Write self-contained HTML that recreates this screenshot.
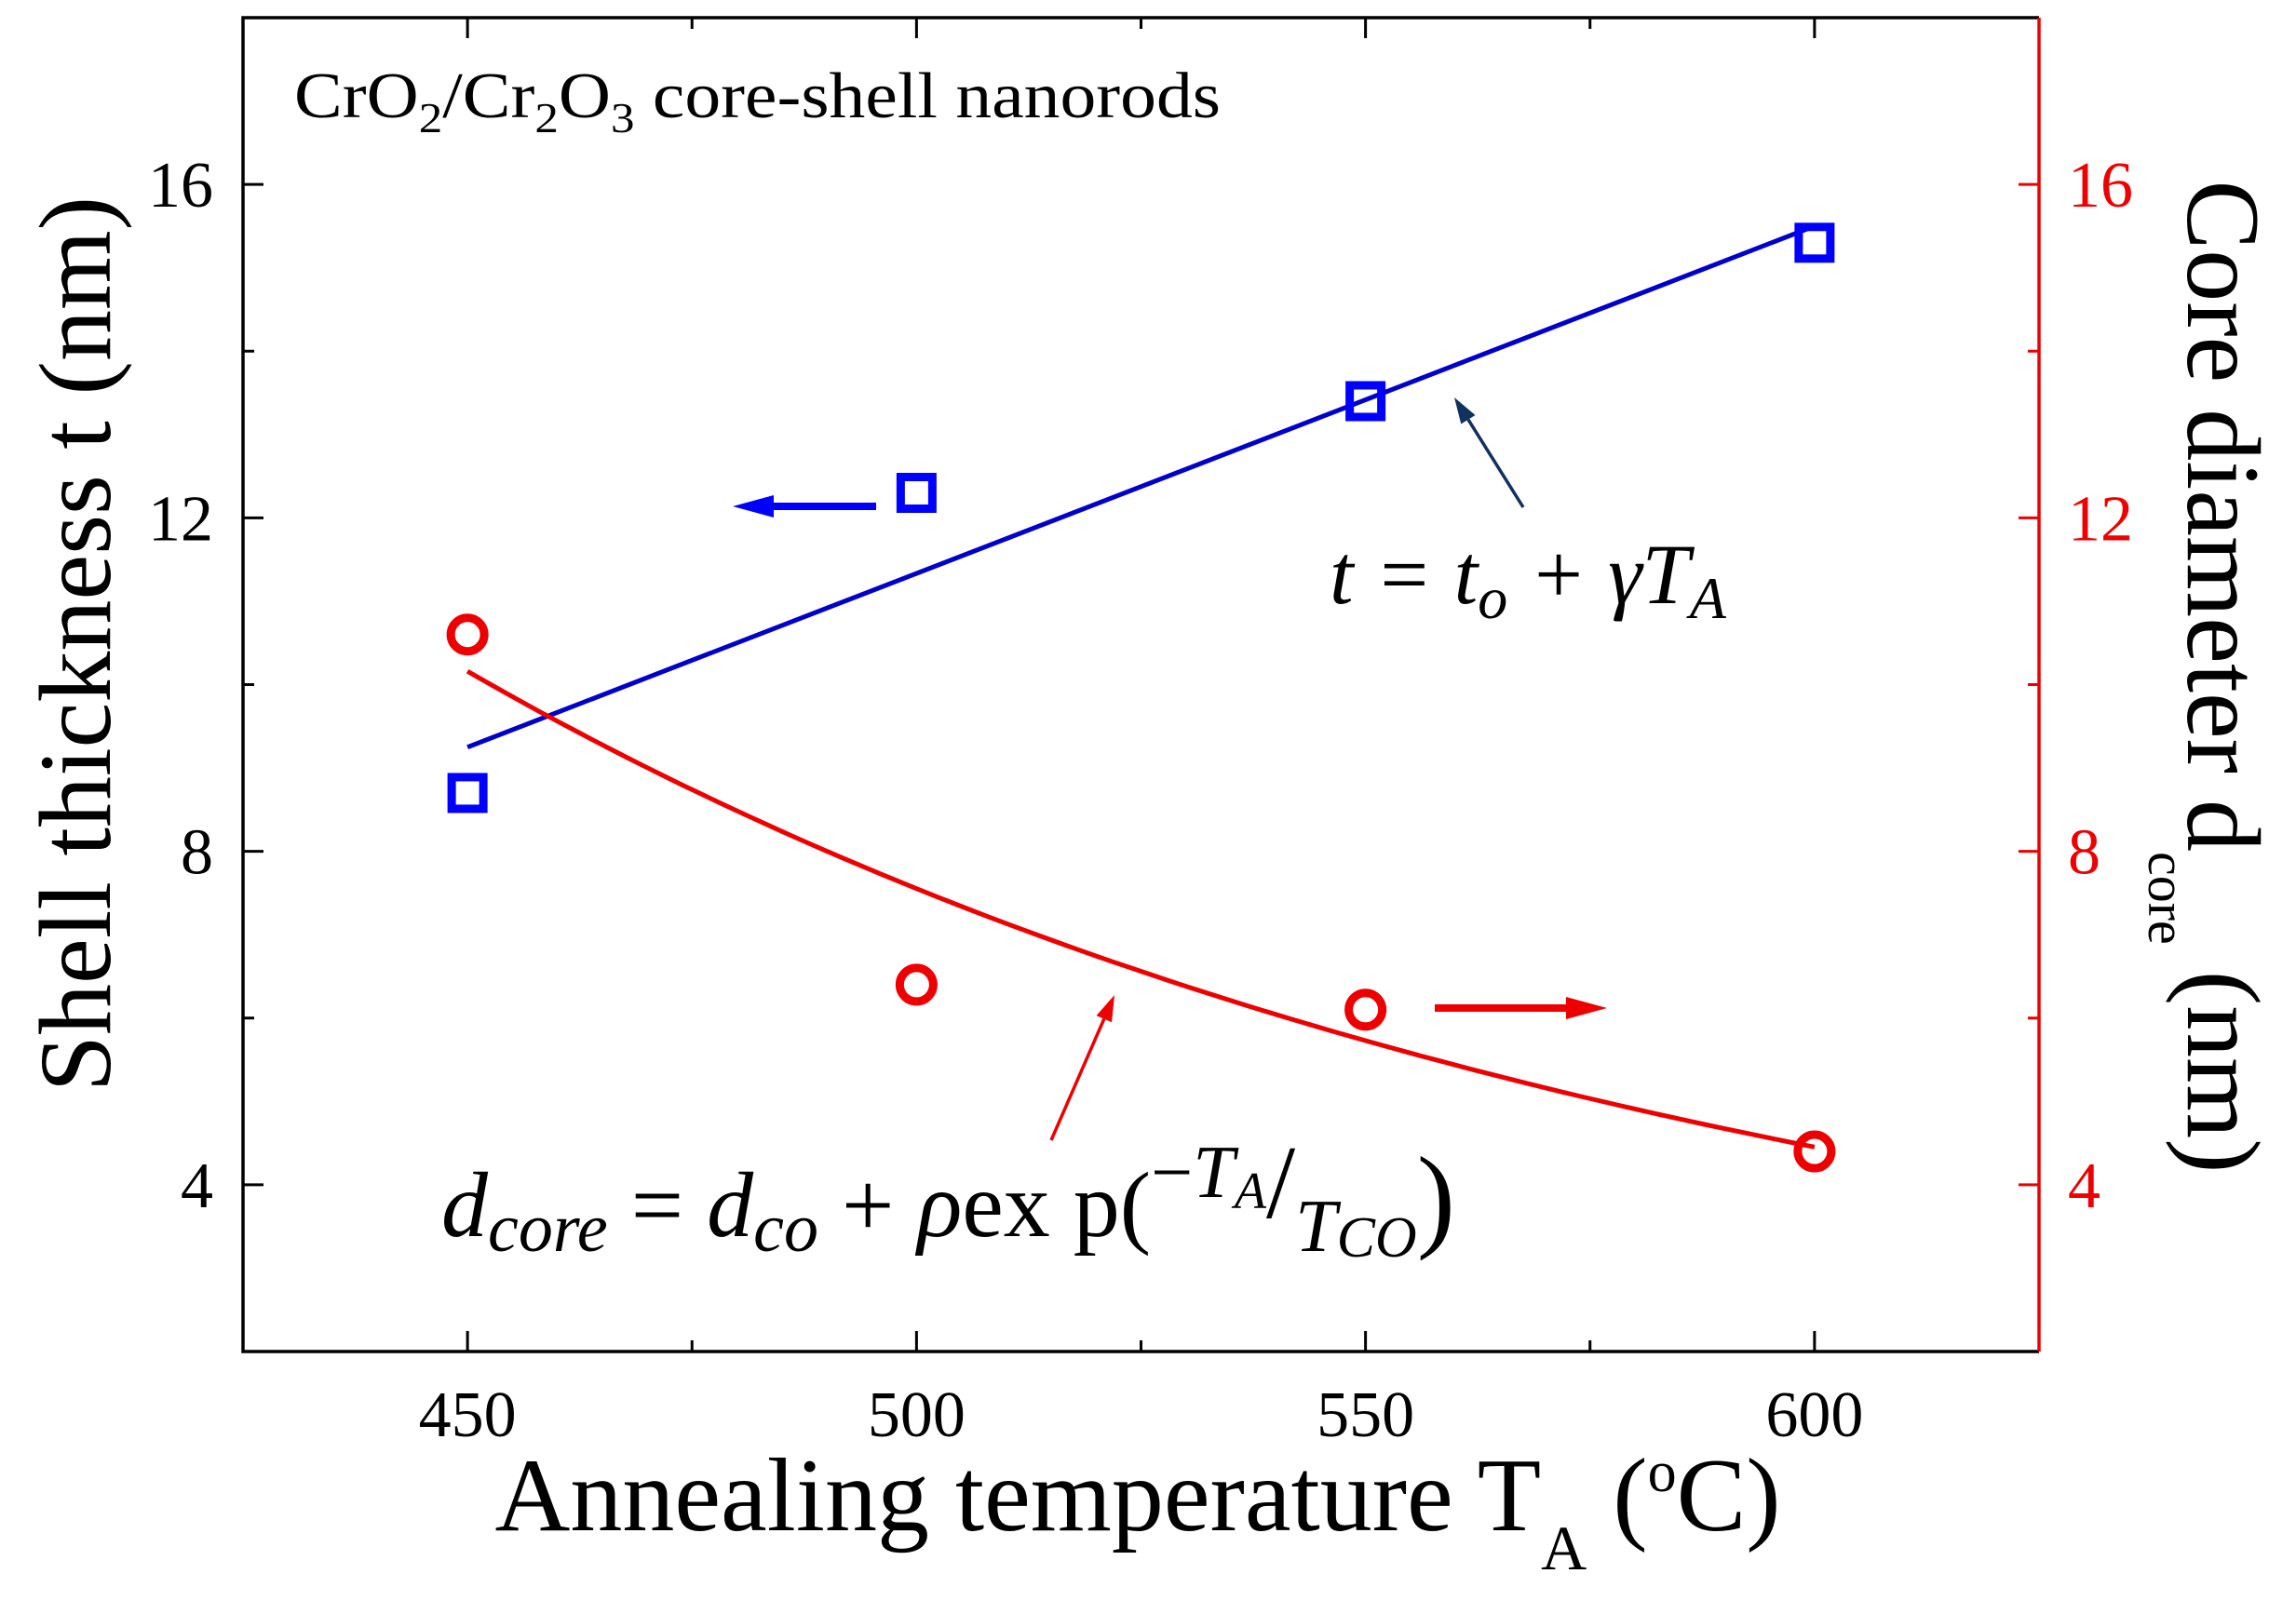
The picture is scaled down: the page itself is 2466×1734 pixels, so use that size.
<!DOCTYPE html>
<html><head><meta charset="utf-8"><style>
html,body{margin:0;padding:0;background:#fff;}
svg{display:block;font-family:"Liberation Serif",serif;}
</style></head><body>
<svg id="chart" width="2466" height="1734" viewBox="0 0 2466 1734">
<g id="axes"></g>
<g id="marks"></g>
<g id="annot">
<text x="316" y="126" font-size="70" fill="#000" textLength="995" lengthAdjust="spacingAndGlyphs">CrO<tspan font-size="46" dy="16">2</tspan><tspan dy="-16">/Cr</tspan><tspan font-size="46" dy="16">2</tspan><tspan dy="-16">O</tspan><tspan font-size="46" dy="16">3</tspan><tspan dy="-16"> core-shell nanorods</tspan></text>
<text x="1428" y="648" font-size="92" font-style="italic" fill="#000">t = t<tspan font-size="64" dy="16">o</tspan><tspan dy="-16"> + γT</tspan><tspan font-size="64" dy="16">A</tspan></text>
<text x="474" y="1328" font-size="100" font-style="italic" fill="#000">d<tspan font-size="74" dy="16">core</tspan><tspan dy="-16" font-style="normal"> = </tspan>d<tspan font-size="74" dy="16">co</tspan><tspan dy="-16" font-style="normal"> + </tspan>ρ<tspan font-style="normal">ex p(</tspan><tspan font-size="80" dy="-42" font-style="normal">−</tspan><tspan font-size="80">T</tspan><tspan font-size="56" dy="12">A</tspan><tspan font-size="112" dy="10" font-style="normal">/</tspan><tspan font-size="80" dy="36">T</tspan><tspan font-size="62" dy="6">CO</tspan><tspan font-size="124" dy="-22" font-style="normal">)</tspan></text>
</g>
</svg>
<script>
const xTicks=[450,500,550,600];
const xMinor=[475,525,575];
const yTicks=[4,8,12,16];
const yMinor=[6,10,14];
const temps=[450,500,550,600];
const shell=[8.7,12.3,13.4,15.3];
const core=[10.6,6.4,6.1,4.4];
const shellFit=[9.25,15.5];
const coreFitParams=[1.48,216,140]; // dco, rho, Tco
const L=261,R=2190,T=19,B=1452,X0=425,X1=625,Y0=2,Y1=18;
const sx=v=>L+(v-X0)/(X1-X0)*(R-L);
const sy=v=>B-(v-Y0)/(Y1-Y0)*(B-T);
const NS="http://www.w3.org/2000/svg";
function mk(tag,attrs,parent){const e=document.createElementNS(NS,tag);for(const k in attrs)e.setAttribute(k,attrs[k]);parent.appendChild(e);return e;}
const ax=document.getElementById('axes'),mg=document.getElementById('marks'),an=document.getElementById('annot');
let e;
e=mk('path',{d:`M${R},${T}L${L},${T}L${L},${B}L${R},${B}`,fill:'none',stroke:'#000','stroke-width':3.5},ax);


e=mk('line',{x1:R,y1:T,x2:R,y2:B,stroke:'#e00','stroke-width':3.5},ax);


xTicks.forEach(v=>{const x=sx(v);
mk('line',{x1:x,y1:B,x2:x,y2:B-22,stroke:'#000','stroke-width':3},ax);
mk('line',{x1:x,y1:T,x2:x,y2:T+22,stroke:'#000','stroke-width':3},ax);
e=mk('text',{x:x,y:1543,'font-size':70,'text-anchor':'middle'},ax);e.textContent=v;

});
xMinor.forEach(v=>{const x=sx(v);mk('line',{x1:x,y1:B,x2:x,y2:B-12,stroke:'#000','stroke-width':3},ax);mk('line',{x1:x,y1:T,x2:x,y2:T+12,stroke:'#000','stroke-width':3},ax);});
yTicks.forEach(v=>{const y=sy(v);
mk('line',{x1:L,y1:y,x2:L+22,y2:y,stroke:'#000','stroke-width':3},ax);
mk('line',{x1:R,y1:y,x2:R-22,y2:y,stroke:'#e00','stroke-width':3},ax);
e=mk('text',{x:229,y:y+24,'font-size':70,'text-anchor':'end'},ax);e.textContent=v;


e=mk('text',{x:2221,y:y+24,'font-size':70,fill:'#e00'},ax);e.textContent=v;

});
yMinor.forEach(v=>{const y=sy(v);mk('line',{x1:L,y1:y,x2:L+12,y2:y,stroke:'#000','stroke-width':3},ax);mk('line',{x1:R,y1:y,x2:R-12,y2:y,stroke:'#e00','stroke-width':3},ax);});
e=mk('text',{x:1222,y:1644,'font-size':112,'text-anchor':'middle'},ax);
e.innerHTML='Annealing temperature T<tspan font-size="68" dy="42">A</tspan><tspan dy="-42"> (</tspan><tspan font-size="62" dy="-42">o</tspan><tspan dy="42">C)</tspan>';


e=mk('text',{x:0,y:0,'font-size':110,'text-anchor':'middle',transform:'translate(118,692) rotate(-90)'},ax);
e.textContent='Shell thickness t (nm)';


e=mk('text',{x:0,y:0,'font-size':112,'text-anchor':'middle',transform:'translate(2350,727) rotate(90)'},ax);
e.innerHTML='Core diameter d<tspan font-size="58" dy="42">core</tspan><tspan dy="-42"> (nm)</tspan>';


e=mk('line',{x1:sx(temps[0]),y1:sy(shellFit[0]),x2:sx(temps[3]),y2:sy(shellFit[1]),stroke:'#00c','stroke-width':5},mg);


let d='';for(let t=temps[0];t<=temps[3];t+=2){const v=coreFitParams[0]+coreFitParams[1]*Math.exp(-t/coreFitParams[2]);d+=(d?'L':'M')+sx(t).toFixed(1)+','+sy(v).toFixed(1);}
e=mk('path',{d:d,fill:'none',stroke:'#e00','stroke-width':5},mg);


temps.forEach((t,i)=>{
e=mk('rect',{x:sx(t)-17,y:sy(shell[i])-17,width:34,height:34,fill:'none',stroke:'#00f','stroke-width':9},mg);


e=mk('circle',{cx:sx(t),cy:sy(core[i]),r:18,fill:'none',stroke:'#e00','stroke-width':9},mg);

});
function arrow(x1,y1,x2,y2,col,w,hl,hw,name){const a=Math.atan2(y2-y1,x2-x1),c=Math.cos(a),s=Math.sin(a);
const bx=x2-hl*c,by=y2-hl*s;
const g=mk('g',{},an);


mk('line',{x1:x1,y1:y1,x2:bx,y2:by,stroke:col,'stroke-width':w},g);
mk('polygon',{points:`${x2},${y2} ${bx-hw*s},${by+hw*c} ${bx+hw*s},${by-hw*c}`,fill:col},g);}
arrow(941,544,787,544,'#00f',8,44,12,'left-axis-arrow');
arrow(1541,1083,1726,1083,'#e00',8,44,12,'right-axis-arrow');
arrow(1636,545,1562,427,'#123060',3.5,28,9,'shell-formula-pointer');
arrow(1129,1225,1197,1069,'#e00',3.5,28,9,'core-formula-pointer');
</script>
</body></html>
